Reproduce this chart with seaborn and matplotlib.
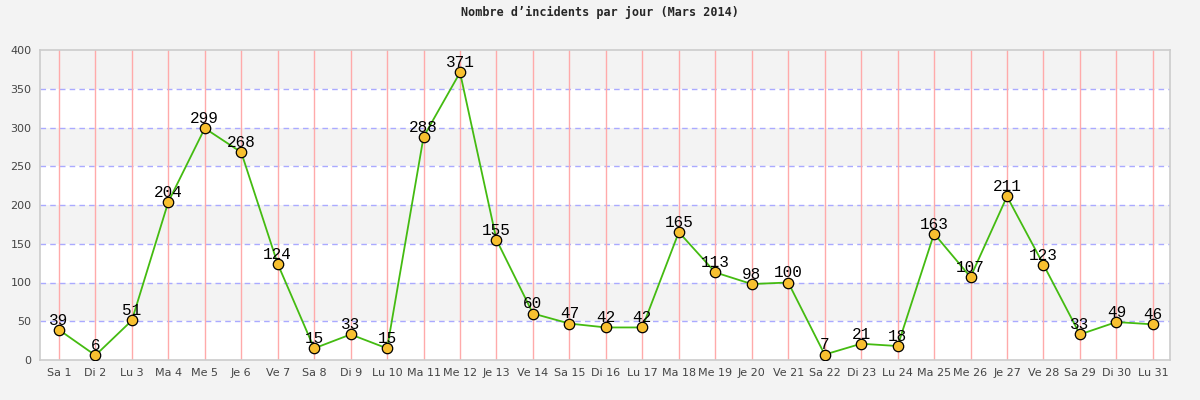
import matplotlib
matplotlib.use("Agg")
import matplotlib.pyplot as plt
import seaborn as sns
import pandas as pd

days = ["Sa 1","Di 2","Lu 3","Ma 4","Me 5","Je 6","Ve 7","Sa 8","Di 9","Lu 10",
        "Ma 11","Me 12","Je 13","Ve 14","Sa 15","Di 16","Lu 17","Ma 18","Me 19","Je 20",
        "Ve 21","Sa 22","Di 23","Lu 24","Ma 25","Me 26","Je 27","Ve 28","Sa 29","Di 30","Lu 31"]
incidents = [39, 6, 51, 204, 299, 268, 124, 15, 33, 15,
             288, 371, 155, 60, 47, 42, 42, 165, 113, 98,
             100, 7, 21, 18, 163, 107, 211, 123, 33, 49, 46]
y_ticks = [0, 50, 100, 150, 200, 250, 300, 350, 400]
title = "Nombre d\u2019incidents par jour (Mars 2014)"

sns.set_style("white")
df = pd.DataFrame({"pos": range(len(days)), "val": incidents})

fig = plt.figure(figsize=(12, 4), dpi=100, facecolor="#f3f3f3")
ax = fig.add_axes([0.0333, 0.1, 0.9417, 0.775])
ax.set_facecolor("white")

# alternating bands
for i in range(len(y_ticks) - 1):
    if i % 2 == 1:
        ax.axhspan(y_ticks[i], y_ticks[i + 1], color="#f3f3f3", zorder=0, lw=0)
for yt in y_ticks[1:-1]:
    ax.axhline(yt, color="#aaaaff", lw=1, ls=(0, (4, 3)), zorder=1)
for i in range(len(days)):
    ax.axvline(i, color="#ffaaaa", lw=1, zorder=1)

sns.lineplot(data=df, x="pos", y="val", ax=ax, color="#44bb11", lw=1.3,
             marker="o", markersize=7.5, markerfacecolor="#f8c030",
             markeredgecolor="#000000", markeredgewidth=0.9, zorder=3)

for x, v in zip(df["pos"], df["val"]):
    ax.annotate(str(v), (x, v), xytext=(0, 1.5), textcoords="offset points",
                ha="center", va="bottom", fontsize=11.5, family="Liberation Mono",
                color="black", zorder=4)

ax.set_xlim(-0.52, len(days) - 1 + 0.47)
ax.set_ylim(0, 400)
ax.set_xticks(range(len(days)))
ax.set_xticklabels(days)
ax.set_yticks(y_ticks)
ax.tick_params(axis="both", labelsize=8, labelcolor="#444444", length=0, pad=6)
ax.set_xlabel("")
ax.set_ylabel("")
for s in ax.spines.values():
    s.set_color("#cccccc")
    s.set_linewidth(1.2)
    s.set_visible(True)

fig.text(0.5, 0.968, title, ha="center", va="center", fontsize=8.5,
         family="DejaVu Sans Mono", fontweight="bold")

fig.savefig("out.png", dpi=100, facecolor=fig.get_facecolor())
